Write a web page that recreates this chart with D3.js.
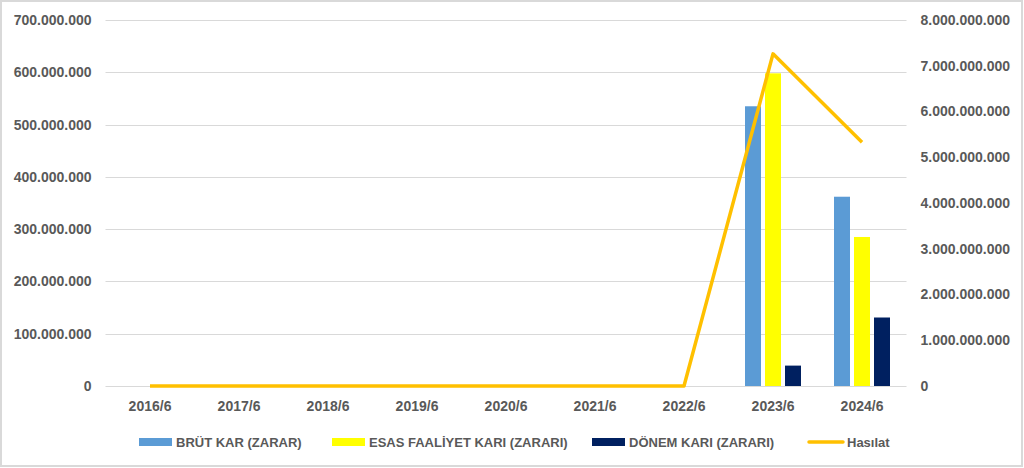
<!DOCTYPE html>
<html>
<head>
<meta charset="utf-8">
<script src="https://cdn.jsdelivr.net/npm/d3@7/dist/d3.min.js"></script>
<style>
  html, body { margin: 0; padding: 0; background: #fff; }
  svg { display: block; }
  text { font-family: "Liberation Sans", Arial, sans-serif; font-weight: bold; fill: #595959; }
</style>
</head>
<body>
<script>
"use strict";

// data
let periods = ["2016/6", "2017/6", "2018/6", "2019/6", "2020/6", "2021/6", "2022/6", "2023/6", "2024/6"];
let brutKar = [0, 0, 0, 0, 0, 0, 0, 535000000, 362000000];
let esasFaaliyet = [0, 0, 0, 0, 0, 0, 0, 598000000, 285000000];
let donemKari = [0, 0, 0, 0, 0, 0, 0, 39000000, 131000000];
let hasilat = [0, 0, 0, 0, 0, 0, 0, 7260000000, 5330000000];
let leftTicks = [0, 100000000, 200000000, 300000000, 400000000, 500000000, 600000000, 700000000];
let rightTicks = [0, 1000000000, 2000000000, 3000000000, 4000000000, 5000000000, 6000000000, 7000000000, 8000000000];

let barSeries = [
    {name: "BRÜT KAR (ZARAR)", values: brutKar, color: "#5B9BD5"},
    {name: "ESAS FAALİYET KARI (ZARARI)", values: esasFaaliyet, color: "#FFFF00"},
    {name: "DÖNEM KARI (ZARARI)", values: donemKari, color: "#002060"}
];

let W = 1024, H = 468;
let plot = {left: 105.5, right: 906.5, top: 20, bottom: 386};

let fmt = function (v) {
    return d3.format(",")(v).replace(/,/g, ".");
};

let svg = d3.select("body").append("svg")
    .attr("width", W)
    .attr("height", H);

// outer frame
svg.append("rect")
    .attr("x", 1).attr("y", 1)
    .attr("width", W - 3).attr("height", H - 3)
    .attr("fill", "#fff")
    .attr("stroke", "#d9d9d9")
    .attr("stroke-width", 2);

let x = d3.scaleBand()
    .domain(periods)
    .range([plot.left, plot.right]);

let yLeft = d3.scaleLinear()
    .domain([0, 700000000])
    .range([plot.bottom, plot.top]);

let yRight = d3.scaleLinear()
    .domain([0, 8000000000])
    .range([plot.bottom, plot.top]);

// gridlines
svg.append("g")
    .selectAll("line")
    .data(leftTicks)
    .enter().append("line")
    .attr("x1", plot.left).attr("x2", plot.right)
    .attr("y1", d => Math.round(yLeft(d)) + 0.5)
    .attr("y2", d => Math.round(yLeft(d)) + 0.5)
    .attr("stroke", "#d9d9d9")
    .attr("stroke-width", 1);

// left axis
let leftAxis = svg.append("g")
    .attr("transform", "translate(" + plot.left + ",0)")
    .call(d3.axisLeft(yLeft).tickValues(leftTicks).tickFormat(fmt).tickSize(0).tickPadding(14));
leftAxis.select(".domain").remove();
leftAxis.selectAll("text").attr("font-size", 14).attr("font-family", null).attr("fill", null);

// right axis
let rightAxis = svg.append("g")
    .attr("transform", "translate(" + plot.right + ",0)")
    .call(d3.axisRight(yRight).tickValues(rightTicks).tickFormat(fmt).tickSize(0).tickPadding(14));
rightAxis.select(".domain").remove();
rightAxis.selectAll("text").attr("font-size", 14).attr("font-family", null).attr("fill", null);

// bottom axis
let bottomAxis = svg.append("g")
    .attr("transform", "translate(0," + plot.bottom + ")")
    .call(d3.axisBottom(x).tickSize(0).tickPadding(15));
bottomAxis.select(".domain").remove();
bottomAxis.selectAll("text").attr("font-size", 14).attr("font-family", null).attr("fill", null);

// bars
let inner = d3.scaleBand()
    .domain(barSeries.map(s => s.name))
    .range([0, x.bandwidth()])
    .paddingInner(0.2)
    .paddingOuter(0.825);

barSeries.forEach(function (s) {
    svg.append("g")
        .selectAll("rect")
        .data(s.values)
        .enter().append("rect")
        .attr("x", (d, i) => x(periods[i]) + inner(s.name))
        .attr("width", inner.bandwidth())
        .attr("y", d => yLeft(d))
        .attr("height", d => plot.bottom - yLeft(d))
        .attr("fill", s.color);
});

// Hasılat line on right axis
let line = d3.line()
    .x((d, i) => x(periods[i]) + x.bandwidth() / 2)
    .y(d => yRight(d));

svg.append("path")
    .datum(hasilat)
    .attr("d", line)
    .attr("fill", "none")
    .attr("stroke", "#FFC000")
    .attr("stroke-width", 3.5)
    .attr("stroke-linejoin", "round");

// legend
let legendY = 442;
let legendItems = [
    {name: barSeries[0].name, color: barSeries[0].color, type: "bar", x: 139},
    {name: barSeries[1].name, color: barSeries[1].color, type: "bar", x: 332},
    {name: barSeries[2].name, color: barSeries[2].color, type: "bar", x: 592},
    {name: "Hasılat", color: "#FFC000", type: "line", x: 809}
];

let legend = svg.append("g");
legendItems.forEach(function (d) {
    if (d.type === "bar") {
        legend.append("rect")
            .attr("x", d.x).attr("y", legendY - 4)
            .attr("width", 33).attr("height", 8)
            .attr("fill", d.color);
    } else {
        legend.append("line")
            .attr("x1", d.x).attr("x2", d.x + 34)
            .attr("y1", legendY).attr("y2", legendY)
            .attr("stroke", d.color)
            .attr("stroke-width", 3.5)
            .attr("stroke-linecap", "round");
    }
    legend.append("text")
        .attr("x", d.x + (d.type === "bar" ? 37 : 38))
        .attr("y", legendY)
        .attr("dy", "0.35em")
        .attr("font-size", 13)
        .text(d.name);
});
</script>
</body>
</html>
